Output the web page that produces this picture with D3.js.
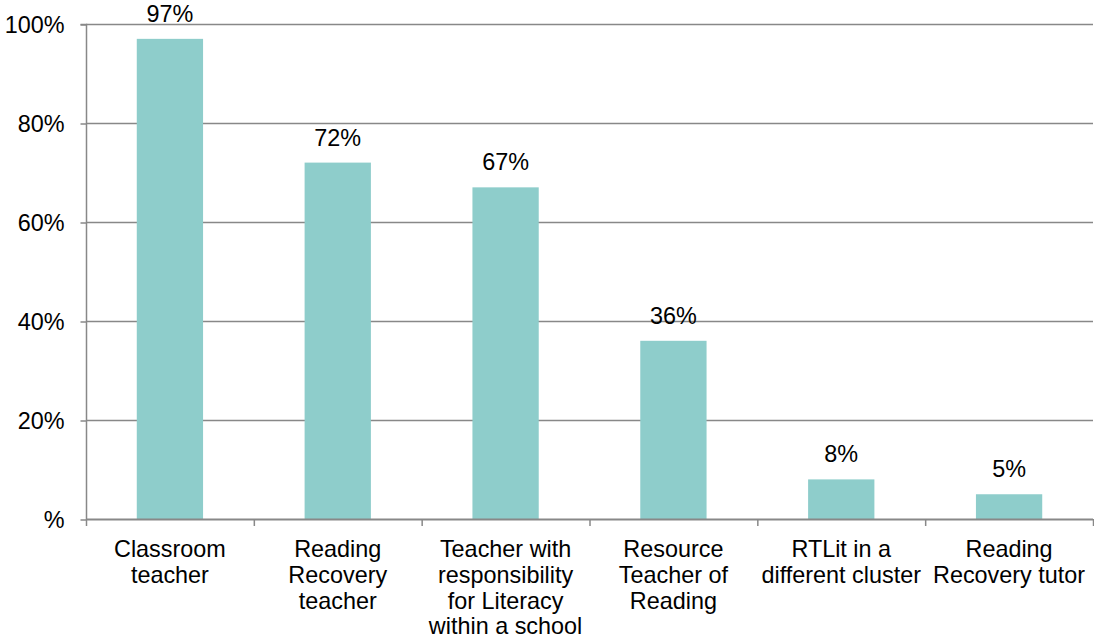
<!DOCTYPE html>
<html>
<head>
<meta charset="utf-8">
<script src="https://cdn.jsdelivr.net/npm/d3@7"></script>
<style>
  html, body { margin: 0; padding: 0; background: #fff; }
  svg { display: block; }
  text { font-family: "Liberation Sans", Arial, sans-serif; fill: #000; }
</style>
</head>
<body>
<svg id="chart" width="1094" height="638"></svg>
<script>
const categories = [
  ["Classroom", "teacher"],
  ["Reading", "Recovery", "teacher"],
  ["Teacher with", "responsibility", "for Literacy", "within a school"],
  ["Resource", "Teacher of", "Reading"],
  ["RTLit in a", "different cluster"],
  ["Reading", "Recovery tutor"]
];
const values = [97, 72, 67, 36, 8, 5];
const yTicks = [0, 20, 40, 60, 80, 100];
const yTickLabels = ["%", "20%", "40%", "60%", "80%", "100%"];

const svg = d3.select("#chart");
const plotLeft = 86, plotRight = 1093, plotTop = 24, plotBottom = 519;
const fontSize = 23.4;
const gridColor = "#888888";
const barColor = "#8ECDCB";

const keys = categories.map((c, i) => i);
const x = d3.scaleBand().domain(keys).range([plotLeft, plotRight]).padding(0);
const y = d3.scaleLinear().domain([0, 100]).range([plotBottom, plotTop]);

// gridlines
svg.append("g").selectAll("line").data(yTicks.filter(t => t > 0)).join("line")
  .attr("x1", plotLeft).attr("x2", plotRight)
  .attr("y1", d => y(d) + 0.5).attr("y2", d => y(d) + 0.5)
  .attr("stroke", gridColor).attr("stroke-width", 1.3);

// y axis
const yAxis = d3.axisLeft(y).tickValues(yTicks)
  .tickFormat((d, i) => yTickLabels[i]).tickSize(6).tickPadding(16);
const gy = svg.append("g").attr("transform", `translate(${plotLeft + 0.5},0.5)`).call(yAxis);
gy.select(".domain").attr("stroke", gridColor).attr("stroke-width", 1.5)
  .attr("d", `M-6,${plotTop}H0V${plotBottom}`);
gy.selectAll(".tick line").attr("stroke", gridColor).attr("stroke-width", 1.5);
gy.selectAll(".tick text").attr("font-size", fontSize)
  .attr("font-family", '"Liberation Sans", Arial, sans-serif').attr("fill", "#000")
  .attr("dy", "0.35em");

// bars
const bw = x.bandwidth();
const barW = bw * 0.395;
svg.append("g").selectAll("rect").data(values).join("rect")
  .attr("x", (d, i) => x(i) + (bw - barW) / 2)
  .attr("width", barW)
  .attr("y", d => y(d))
  .attr("height", d => y(0) - y(d))
  .attr("fill", barColor);

// x axis
const xBoundaries = keys.map(k => x(k)).concat([plotRight]);
const gx = svg.append("g");
gx.append("line").attr("x1", plotLeft).attr("x2", plotRight)
  .attr("y1", plotBottom + 0.5).attr("y2", plotBottom + 0.5)
  .attr("stroke", gridColor).attr("stroke-width", 1.8);
gx.selectAll("line.tk").data(xBoundaries).join("line").attr("class", "tk")
  .attr("x1", d => d + 0.5).attr("x2", d => d + 0.5)
  .attr("y1", plotBottom).attr("y2", plotBottom + 7)
  .attr("stroke", gridColor).attr("stroke-width", 1.5);

// category labels
const lab = svg.append("g").selectAll("text").data(categories).join("text")
  .attr("text-anchor", "middle")
  .attr("font-size", fontSize)
  .attr("x", (d, i) => x(i) + bw / 2)
  .attr("y", 557);
lab.each(function(lines, i) {
  d3.select(this).selectAll("tspan").data(lines).join("tspan")
    .attr("x", x(i) + bw / 2)
    .attr("dy", (l, j) => j === 0 ? 0 : 25.8)
    .text(l => l);
});

// value labels
svg.append("g").selectAll("text").data(values).join("text")
  .attr("text-anchor", "middle")
  .attr("font-size", fontSize)
  .attr("x", (d, i) => x(i) + bw / 2)
  .attr("y", d => y(d) - 17)
  .text(d => d + "%");
</script>
</body>
</html>
